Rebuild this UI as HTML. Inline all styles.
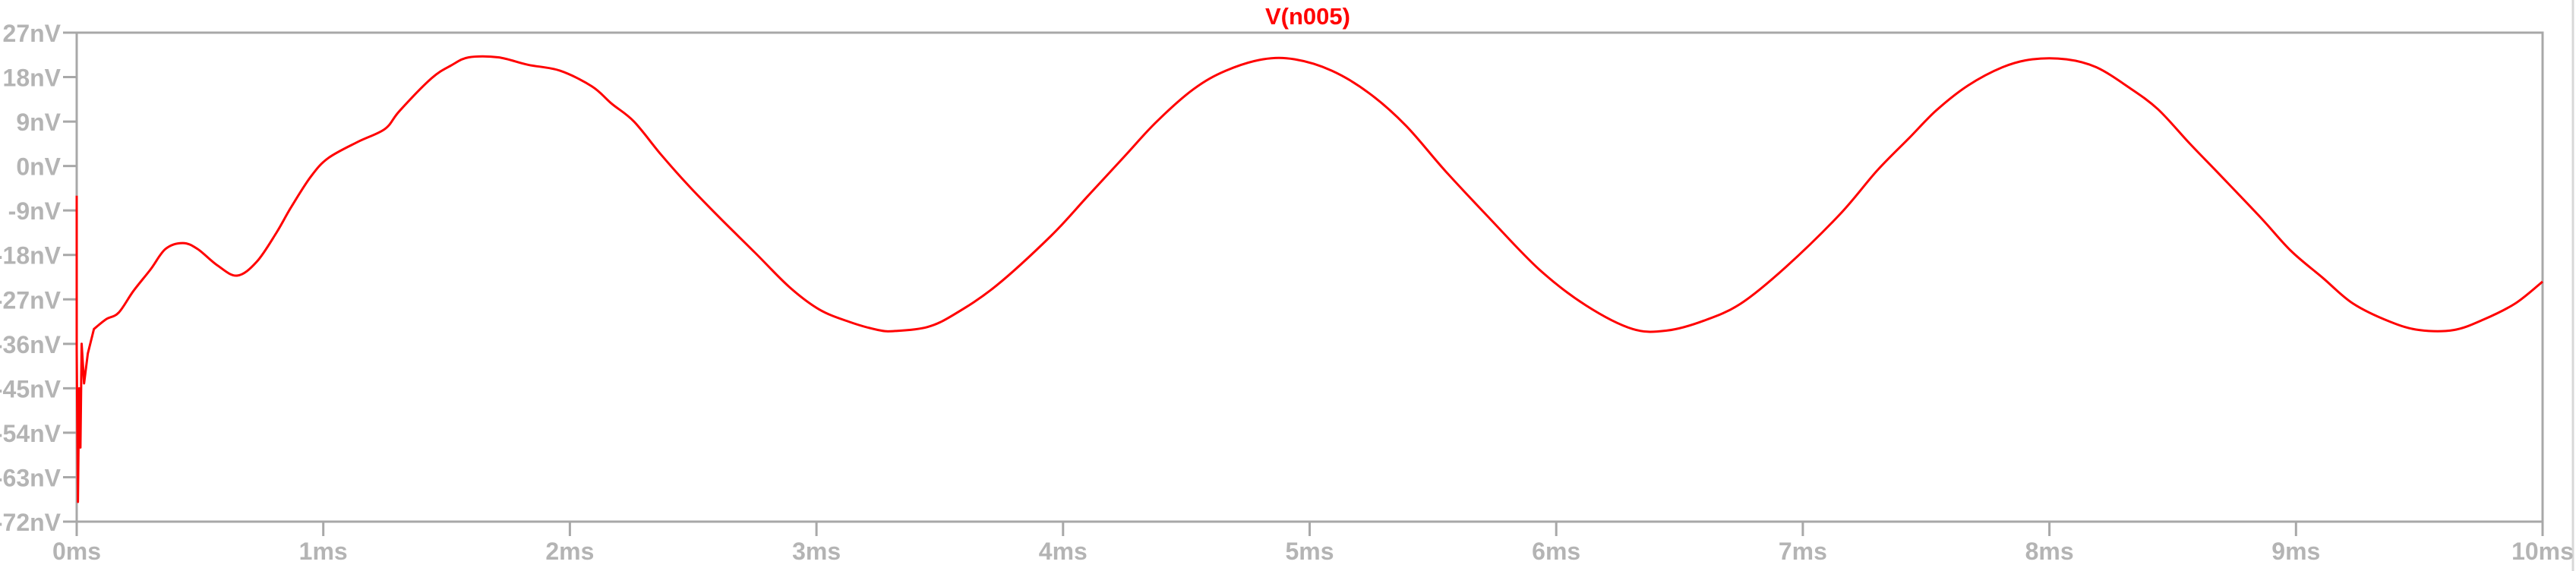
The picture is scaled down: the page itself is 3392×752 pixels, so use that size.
<!DOCTYPE html>
<html><head><meta charset="utf-8"><style>
html,body{margin:0;padding:0;background:#fff;width:3392px;height:752px;overflow:hidden}
svg{display:block}
</style></head><body>
<svg id="chart" width="3392" height="752" xmlns="http://www.w3.org/2000/svg">
  <text x="1722" y="32" text-anchor="middle" font-family="Liberation Sans, sans-serif" font-weight="bold" font-size="31" fill="#ff0000">V(n005)</text>
  <rect x="101" y="43" width="3247" height="644" fill="none" stroke="#a8a8a8" stroke-width="3"/>
  <line x1="3388" y1="0" x2="3388" y2="752" stroke="#d8d8d8" stroke-width="3"/>
  <g id="axes"></g>
  <g id="series"></g>
</svg>
<script>
const yTicks = [27, 18, 9, 0, -9, -18, -27, -36, -45, -54, -63, -72];
const yTickLabels = ["27nV","18nV","9nV","0nV","-9nV","-18nV","-27nV","-36nV","-45nV","-54nV","-63nV","-72nV"];
const xTicks = [0,1,2,3,4,5,6,7,8,9,10];
const xTickLabels = ["0ms","1ms","2ms","3ms","4ms","5ms","6ms","7ms","8ms","9ms","10ms"];
const timeMs = [0,0,0.005,0.01,0.015,0.02,0.03,0.045,0.07,0.12,0.17,0.23,0.30,0.36,0.43,0.49,0.57,0.65,0.73,0.81,0.87,0.95,1.02,1.14,1.25,1.31,1.44,1.52,1.59,1.71,1.83,1.96,2.09,2.17,2.26,2.37,2.48,2.61,2.75,2.89,3.01,3.13,3.25,3.32,3.45,3.56,3.73,3.95,4.10,4.25,4.38,4.53,4.66,4.81,4.94,5.09,5.24,5.39,5.55,5.73,5.93,6.12,6.31,6.45,6.60,6.75,6.93,7.15,7.30,7.43,7.54,7.67,7.81,7.93,8.07,8.19,8.32,8.44,8.57,8.69,8.86,8.98,9.11,9.23,9.38,9.50,9.64,9.76,9.89,10];
const voltageNV = [-6,-37,-68,-45,-57,-36,-44,-38,-33,-31,-29.7,-25.3,-20.9,-16.8,-15.6,-16.8,-20.1,-22.2,-19.4,-13.5,-8.3,-2.1,1.6,4.9,7.5,11.2,17.8,20.4,22.0,22.0,20.5,19.3,16.1,12.6,9.0,2.3,-3.9,-10.6,-17.5,-24.5,-29.0,-31.5,-33.2,-33.4,-32.6,-30,-24.2,-14.2,-6.1,2,9,15.6,19.3,21.6,21.6,19.3,14.8,8.2,-1.0,-10.6,-20.9,-28.2,-33.0,-33.3,-31.3,-27.8,-20.5,-9.8,-1.0,5.6,11.2,16.3,20,21.6,21.6,20,16,11.5,4.5,-1.7,-10.6,-17.2,-22.7,-27.8,-31.5,-33.2,-33.2,-31.1,-27.8,-23.4];

const NS = "http://www.w3.org/2000/svg";
const X0 = 101, X1 = 3348, Y0 = 43, Y1 = 687;
const xScale = t => X0 + (t - 0) / 10 * (X1 - X0);
const yScale = v => Y0 + (27 - v) / 99 * (Y1 - Y0);
const axes = document.getElementById('axes');
const series = document.getElementById('series');
function mk(tag, attrs) { const e = document.createElementNS(NS, tag); for (const k in attrs) e.setAttribute(k, attrs[k]); return e; }

yTicks.forEach((v, i) => {
  const y = yScale(v);
  const t = mk('line', {x1: 83, y1: y, x2: X0, y2: y, stroke: '#a8a8a8', 'stroke-width': 3});
  
  
  axes.appendChild(t);
  const l = mk('text', {x: 80, y: y + 12, 'text-anchor': 'end', 'font-family': 'Liberation Sans, sans-serif', 'font-weight': 'bold', 'font-size': 32, fill: '#b4b4b4'});
  l.textContent = yTickLabels[i];
  
  
  axes.appendChild(l);
});
xTicks.forEach((v, i) => {
  const x = xScale(v);
  const t = mk('line', {x1: x, y1: Y1, x2: x, y2: 706, stroke: '#a8a8a8', 'stroke-width': 3});
  
  
  axes.appendChild(t);
  const l = mk('text', {x: x, y: 737, 'text-anchor': 'middle', 'font-family': 'Liberation Sans, sans-serif', 'font-weight': 'bold', 'font-size': 32, fill: '#b4b4b4'});
  l.textContent = xTickLabels[i];
  
  
  axes.appendChild(l);
});
const pts = timeMs.map((t, i) => [xScale(t), yScale(voltageNV[i])]);
const SMOOTH_FROM = 8;
let d = '';
for (let i = 0; i < pts.length; i++) {
  const [x, y] = pts[i];
  if (i === 0) { d += 'M' + x.toFixed(1) + ' ' + y.toFixed(1) + ' '; continue; }
  if (i <= SMOOTH_FROM) { d += 'L' + x.toFixed(1) + ' ' + y.toFixed(1) + ' '; continue; }
  const p0 = pts[Math.max(i - 2, SMOOTH_FROM)], p1 = pts[i - 1], p2 = pts[i], p3 = pts[Math.min(i + 1, pts.length - 1)];
  const c1x = p1[0] + (p2[0] - p0[0]) / 6, c1y = p1[1] + (p2[1] - p0[1]) / 6;
  const c2x = p2[0] - (p3[0] - p1[0]) / 6, c2y = p2[1] - (p3[1] - p1[1]) / 6;
  d += 'C' + c1x.toFixed(1) + ' ' + c1y.toFixed(1) + ' ' + c2x.toFixed(1) + ' ' + c2y.toFixed(1) + ' ' + x.toFixed(1) + ' ' + y.toFixed(1) + ' ';
}
const p = mk('path', {d: d, fill: 'none', stroke: '#ff0000', 'stroke-width': 3, 'stroke-linejoin': 'round'});


series.appendChild(p);
</script>
</body></html>
